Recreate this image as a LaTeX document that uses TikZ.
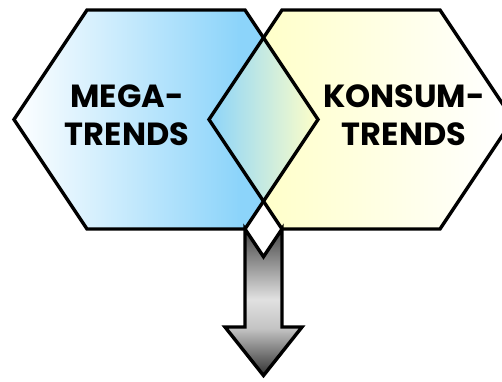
\documentclass[tikz,border=0pt]{standalone}
\usepackage{fontspec}
\setmainfont{Poppins}
\definecolor{hblue}{RGB}{140,212,250}
\definecolor{hyel}{RGB}{255,255,200}
\definecolor{gtip}{RGB}{50,50,50}
\definecolor{gtop}{RGB}{70,70,70}
\definecolor{gmid}{RGB}{225,225,225}
\definecolor{gneck}{RGB}{195,195,195}
\pgfdeclarehorizontalshading{leftshade}{100bp}{color(0bp)=(white); color(25bp)=(white); color(62bp)=(hblue); color(100bp)=(hblue)}
\pgfdeclarehorizontalshading{rightshade}{100bp}{color(0bp)=(hyel); color(33bp)=(hyel); color(73bp)=(white); color(100bp)=(white)}
\pgfdeclarehorizontalshading{midshade}{100bp}{color(0bp)=(hblue); color(25bp)=(hblue); color(75bp)=(hyel); color(100bp)=(hyel)}
\pgfdeclareverticalshading{arrowshade}{100bp}{color(0bp)=(gtip); color(25bp)=(gtip); color(41bp)=(gneck); color(51bp)=(gmid); color(75bp)=(gtop); color(100bp)=(gtop)}
\tikzset{
  outline/.style={draw=black, line width=3.4pt, line join=miter},
  label/.style={font=\bfseries\fontsize{32}{38}\selectfont, align=center, text=black, inner sep=0pt}
}
\begin{document}
\begin{tikzpicture}[x=1pt,y=-1pt]
\useasboundingbox (0,0) rectangle (502,381);
\clip (0,0) rectangle (502,381);
% left hexagon
\coordinate (a1) at (14,119.5);
\coordinate (a2) at (87,10);
\coordinate (a3) at (245,10);
\coordinate (a4) at (318,119.5);
\coordinate (a5) at (245,229);
\coordinate (a6) at (87,229);
% right hexagon
\coordinate (b1) at (209,119.5);
\coordinate (b2) at (282,10);
\coordinate (b3) at (440,10);
\coordinate (b4) at (513,119.5);
\coordinate (b5) at (440,229);
\coordinate (b6) at (282,229);
% intersections
\coordinate (xt) at (263.5,37.75);
\coordinate (xb) at (263.5,201.25);
\coordinate (wd) at (263.5,256.75);
% fills
\shade[shading=leftshade] (a1) -- (a2) -- (a3) -- (a4) -- (a5) -- (a6) -- cycle;
\shade[shading=rightshade] (b1) -- (b2) -- (b3) -- (b4) -- (b5) -- (b6) -- cycle;
\shade[shading=midshade] (b1) -- (xt) -- (a4) -- (xb) -- cycle;
% white diamond and arrow
\fill[white] (xb) -- (b6) -- (wd) -- (a5) -- cycle;
\coordinate (s1) at (245,327);
\coordinate (h1) at (225,327);
\coordinate (tip) at (263.5,375.5);
\coordinate (h2) at (302,327);
\coordinate (s2) at (282,327);
\shade[shading=arrowshade, outline] (a5) -- (s1) -- (h1) -- (tip) -- (h2) -- (s2) -- (b6) -- (wd) -- cycle;
% outlines
\draw[outline] (a1) -- (a2) -- (a3) -- (a4) -- (a5) -- (a6) -- cycle;
\draw[outline] (b1) -- (b2) -- (b3) -- (b4) -- (b5) -- (b6) -- cycle;
% labels
\node[label] (mega) at (127,115) {MEGA-\\TRENDS};
\node[label] (konsum) at (404,115) {KONSUM-\\TRENDS};
\end{tikzpicture}
\end{document}
